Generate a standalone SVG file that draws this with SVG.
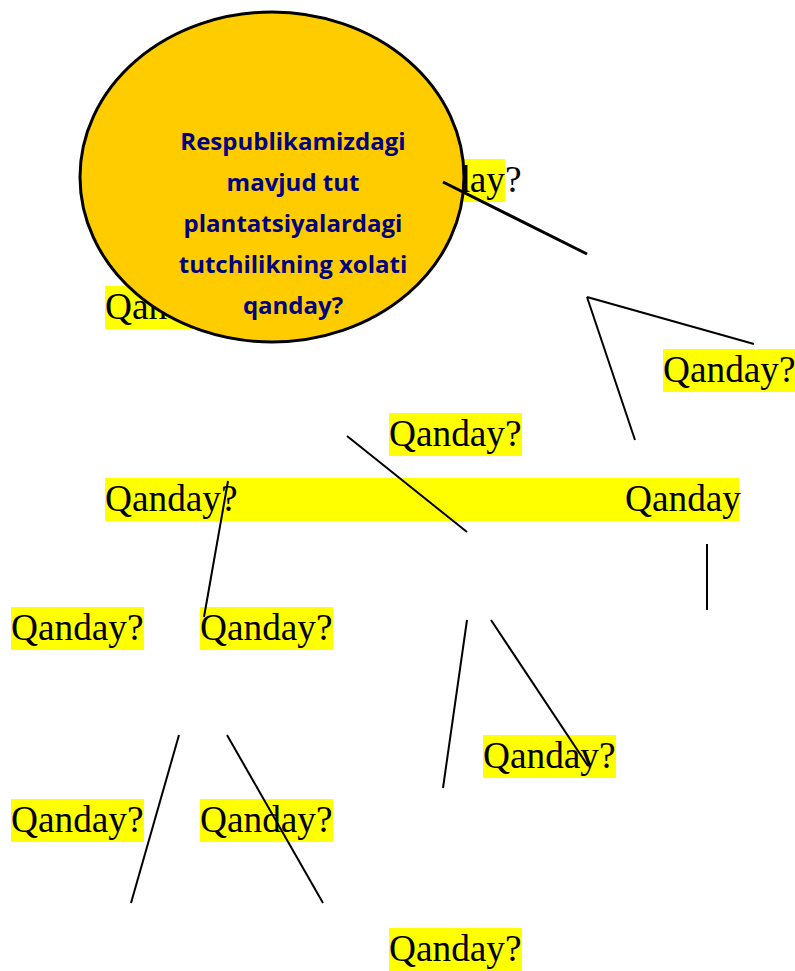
<svg xmlns="http://www.w3.org/2000/svg" width="795" height="971" viewBox="0 0 795 971">
<style>
.hl{fill:#FFFF00}
.q{font-family:"Liberation Serif","Times New Roman",serif;font-size:37.3px;fill:#000}
.main{font-family:"Open Sans","Noto Sans",sans-serif;font-weight:bold;font-size:24px;fill:#000080;text-anchor:middle}
.c{stroke:#000;stroke-width:2;fill:none}
</style>
<rect width="795" height="971" fill="#fff"/>
<g id="n-q1"><rect class="hl" x="389" y="159" width="116" height="43"/><text class="q" x="389" y="192">Qanday?</text></g>
<g id="n-q2"><rect class="hl" x="105" y="286" width="133" height="43"/><text class="q" x="105" y="319">Qanday?</text></g>
<g id="n-q3"><rect class="hl" x="663" y="349" width="133" height="43"/><text class="q" x="663" y="382">Qanday?</text></g>
<g id="n-q4"><rect class="hl" x="389" y="413" width="133" height="43"/><text class="q" x="389" y="446">Qanday?</text></g>
<g id="n-band"><rect class="hl" x="105" y="478" width="634" height="43"/></g>
<g id="n-q5"><text class="q" x="105" y="511">Qanday?</text></g>
<g id="n-q6"><text class="q" x="625" y="511">Qanday</text></g>
<g id="n-q7"><rect class="hl" x="11" y="607" width="133" height="43"/><text class="q" x="11" y="640">Qanday?</text></g>
<g id="n-q8"><rect class="hl" x="200" y="607" width="133" height="43"/><text class="q" x="200" y="640">Qanday?</text></g>
<g id="n-q9"><rect class="hl" x="483" y="735" width="133" height="43"/><text class="q" x="483" y="768">Qanday?</text></g>
<g id="n-q10"><rect class="hl" x="11" y="799" width="133" height="43"/><text class="q" x="11" y="832">Qanday?</text></g>
<g id="n-q11"><rect class="hl" x="200" y="799" width="133" height="43"/><text class="q" x="200" y="832">Qanday?</text></g>
<g id="n-q12"><rect class="hl" x="389" y="928" width="133" height="43"/><text class="q" x="389" y="961">Qanday?</text></g>
<g id="n-main">
<ellipse cx="272" cy="177" rx="192" ry="165" fill="#FFCC00" stroke="#000" stroke-width="3"/>
<text class="main" x="293" y="150">Respublikamizdagi</text>
<text class="main" x="293" y="191">mavjud tut</text>
<text class="main" x="293" y="232">plantatsiyalardagi</text>
<text class="main" x="293" y="273">tutchilikning xolati</text>
<text class="main" x="293" y="314">qanday?</text>
</g>
<g id="connectors">
<line x1="443" y1="182" x2="587" y2="254" stroke="#000" stroke-width="3"/>
<line class="c" x1="587" y1="297" x2="754" y2="344"/>
<line class="c" x1="587" y1="297" x2="635" y2="440"/>
<line class="c" x1="347" y1="436" x2="467" y2="532"/>
<line class="c" x1="228" y1="481" x2="204" y2="617"/>
<line class="c" x1="707" y1="544" x2="707" y2="610"/>
<line class="c" x1="467" y1="620" x2="443" y2="788"/>
<line class="c" x1="491" y1="620" x2="588" y2="766"/>
<line class="c" x1="179" y1="735" x2="131" y2="903"/>
<line class="c" x1="227" y1="735" x2="323" y2="903"/>
</g>
</svg>
